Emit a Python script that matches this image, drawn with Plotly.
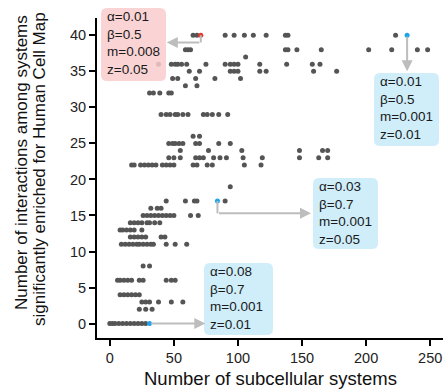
import plotly.graph_objects as go

# ---------------- data ----------------
levels = [40, 38, 37, 36, 35, 34, 33, 32, 29, 26, 25, 24, 23, 22, 19, 17, 16, 15, 14, 13, 12, 11, 8, 6, 4, 3, 2, 0]
systems_at_level = [
    [65, 68, 90, 97, 105, 112, 122, 137, 139, 223],
    [59, 61, 63, 137, 139, 146, 165, 202, 220, 240, 248],
    [106],
    [38, 48, 51, 53, 56, 60, 75, 90, 94, 97, 100, 117, 138, 158, 164],
    [62, 70, 94, 97, 100, 117, 122, 159, 177],
    [49, 53, 67, 82, 102],
    [59, 68],
    [31, 34, 39, 46, 48],
    [40, 44, 47, 51, 53, 57, 61, 73, 76, 80, 85, 92],
    [65, 70],
    [46, 49, 51, 54, 57, 67, 70, 85, 94],
    [55, 77, 103, 148, 166, 170],
    [46, 50, 55, 67, 70, 73, 81, 86, 91, 104, 119, 148, 163, 170],
    [17, 19, 24, 27, 30, 33, 36, 41, 44, 47, 50, 65, 68, 76, 80, 105, 118],
    [94],
    [44, 59, 66, 68, 90],
    [32, 37, 40],
    [26, 29, 32, 35, 38, 41, 44, 47, 50, 63, 69],
    [16, 19, 22, 25, 29, 31, 35, 39],
    [8, 10, 13, 16, 19, 25],
    [16, 19, 22, 25, 28, 40, 43],
    [9, 12, 15, 18, 21, 23, 26, 29, 32, 34, 44, 51, 60],
    [26, 31],
    [6, 8, 11, 14, 17, 23, 26, 44, 48, 51],
    [8, 11, 14, 17, 20, 23],
    [25, 28, 31, 38, 48, 57],
    [23, 28, 33],
    [0, 2, 4, 7, 10, 13, 16, 19, 22, 25, 28],
]

hl_x = [71, 232, 84, 31]
hl_y = [40, 40, 17, 0]
hl_color = ["#e8372c", "#1ea4ea", "#1ea4ea", "#1ea4ea"]
hl_alpha = ["0.01", "0.01", "0.03", "0.08"]
hl_beta = ["0.5", "0.5", "0.7", "0.7"]
hl_m = ["0.008", "0.001", "0.001", "0.001"]
hl_z = ["0.05", "0.01", "0.05", "0.01"]

x_ticks = [0, 50, 100, 150, 200, 250]
y_ticks = [0, 5, 10, 15, 20, 25, 30, 35, 40]

# ---------------- layout geometry ----------------
W, H = 445, 392
ML, MR, MT, MB = 97, 2, 18, 54
PW, PH = W - ML - MR, H - MT - MB
FONT = "Liberation Sans, Arial, sans-serif"


def px2paper(px, py):
    return (px - ML) / PW, (H - MB - py) / PH


def rrect(x0, y0, x1, y1, r=6):
    pts = [("M", x0 + r, y0), ("L", x1 - r, y0), ("Q", x1, y0, x1, y0 + r),
           ("L", x1, y1 - r), ("Q", x1, y1, x1 - r, y1), ("L", x0 + r, y1),
           ("Q", x0, y1, x0, y1 - r), ("L", x0, y0 + r), ("Q", x0, y0, x0 + r, y0)]
    s = ""
    for p in pts:
        cmd, coords = p[0], p[1:]
        parts = []
        for i in range(0, len(coords), 2):
            a, b = px2paper(coords[i], coords[i + 1])
            parts.append(f"{a:.5f},{b:.5f}")
        s += cmd + " " + " ".join(parts) + " "
    return s + "Z"


xs, ys = [], []
for lvl, row in zip(levels, systems_at_level):
    for v in row:
        xs.append(v)
        ys.append(lvl)

fig = go.Figure()
fig.add_trace(go.Scatter(x=xs, y=ys, mode="markers",
                         marker=dict(size=5, color="#555555", line=dict(width=0)),
                         hoverinfo="skip", showlegend=False))
fig.add_trace(go.Scatter(x=hl_x, y=hl_y, mode="markers",
                         marker=dict(size=5, color=hl_color, line=dict(width=0)),
                         hoverinfo="skip", showlegend=False))

# boxes (pixel placement of callouts)
boxes = [(101, 8, 166, 81), (374, 73, 439, 146), (313, 178, 378, 249), (204, 263, 273, 335)]
box_fill = ["rgba(249,205,205,0.85)", "rgba(204,237,250,0.95)", "rgba(204,237,250,0.95)", "rgba(204,237,250,0.95)"]
text_pos = [(107, 43), (380, 108), (319, 213), (210, 298)]

shapes = []
annotations = []
for i, (b, fc) in enumerate(zip(boxes, box_fill)):
    shapes.append(dict(type="path", xref="paper", yref="paper", path=rrect(*b),
                       fillcolor=fc, line=dict(width=0), layer="above"))
    tx, ty = px2paper(*text_pos[i])
    annotations.append(dict(xref="paper", yref="paper", x=tx, y=ty, xanchor="left", yanchor="middle",
                            align="left", showarrow=False, borderpad=0, borderwidth=0,
                            text=f"α={hl_alpha[i]}<br>β={hl_beta[i]}<br>m={hl_m[i]}<br>z={hl_z[i]}",
                            font=dict(family=FONT, size=13.5, color="#1a1a1a")))

ARROW = "#bdbdbd"
# elbow segments (data coords)
elbows = [(hl_x[0], hl_y[0], hl_x[0], 39.0), (hl_x[2], hl_y[2], hl_x[2], 15.3)]
for (x0, y0, x1, y1) in elbows:
    shapes.append(dict(type="line", xref="x", yref="y", x0=x0, y0=y0, x1=x1, y1=y1,
                       line=dict(color=ARROW, width=2), layer="above"))
# arrows: (tail x, tail y, head x, head y)
arrows = [(hl_x[0], 39.0, 44.5, 39.0), (hl_x[1], hl_y[1], hl_x[1], 35.0),
          (hl_x[2], 15.3, 157, 15.3), (hl_x[3], hl_y[3], 74.5, hl_y[3])]
for (ax, ay, hx, hy) in arrows:
    annotations.append(dict(x=hx, y=hy, ax=ax, ay=ay, xref="x", yref="y", axref="x", ayref="y",
                            text="", showarrow=True, arrowhead=2, arrowsize=1.1, arrowwidth=2,
                            arrowcolor=ARROW, standoff=0, startstandoff=0))

# axis titles
cx, cy = px2paper(270, 378)
annotations.append(dict(xref="paper", yref="paper", x=cx, y=cy, xanchor="center", yanchor="middle",
                        showarrow=False, text="Number of subcellular systems",
                        font=dict(family=FONT, size=18.5, color="#111")))
for txt, px, py in [("Number of interactions among systems", 21, 163),
                    ("significantly enriched for Human Cell Map", 39, 169)]:
    ax_, ay_ = px2paper(px, py)
    annotations.append(dict(xref="paper", yref="paper", x=ax_, y=ay_, xanchor="center", yanchor="middle",
                            showarrow=False, text=txt, textangle=-90,
                            font=dict(family=FONT, size=17, color="#111")))

axis_common = dict(showgrid=False, zeroline=False, showline=True, linecolor="black", linewidth=2,
                   ticks="outside", ticklen=6, tickwidth=2, tickcolor="black",
                   tickfont=dict(family=FONT, size=14.5, color="#222"))
fig.update_layout(
    width=W, height=H, margin=dict(l=ML, r=MR, t=MT, b=MB),
    paper_bgcolor="white", plot_bgcolor="white",
    xaxis=dict(range=[-10, 260], tickvals=x_ticks, **axis_common),
    yaxis=dict(range=[-2, 42.4], tickvals=y_ticks, **axis_common),
    shapes=shapes, annotations=annotations, showlegend=False,
)
fig.write_html("out.html")
